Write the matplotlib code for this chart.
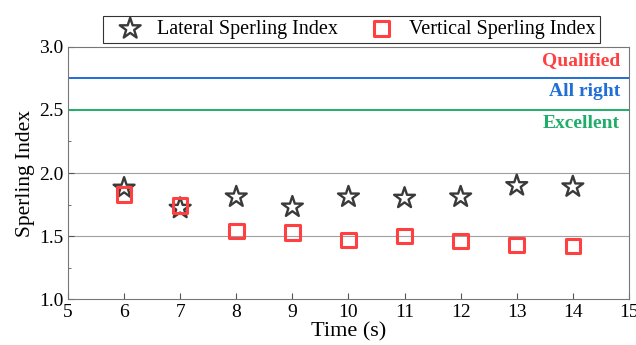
import numpy as np
from matplotlib import pyplot as plt

time_s = [6, 7, 8, 9, 10, 11, 12, 13, 14]
lateral = [1.88, 1.72, 1.81, 1.73, 1.81, 1.80, 1.81, 1.90, 1.89]
vertical = [1.83, 1.74, 1.54, 1.53, 1.47, 1.50, 1.46, 1.43, 1.42]
levels = [3.0, 2.75, 2.5]
level_names = ['Qualified', 'All right', 'Excellent']
level_colors = ['#ff4040', '#1f6fd6', '#1fae6a']

plt.rcParams['font.family'] = ['Liberation Serif', 'DejaVu Serif']
plt.rcParams['font.size'] = 14

fig = plt.figure(figsize=(6.36, 3.45), dpi=100)
ax = fig.add_axes([0.1069, 0.1333, 0.882, 0.7305])

for y in [1.5, 2.0]:
    ax.axhline(y, color='#a0a0a0', lw=0.8, zorder=1)
for y, name, c in zip(levels, level_names, level_colors):
    ax.axhline(y, color=c, lw=1.4, zorder=2)
    ax.text(14.84, y - 0.105, name, color=c, fontweight='bold',
            ha='right', va='center', fontsize=14)

ax.scatter(time_s, lateral, marker='*', s=250, facecolors='none',
           edgecolors='#3a3a3a', linewidths=1.7, label='Lateral Sperling Index', zorder=3)
ax.scatter(time_s, vertical, marker='s', s=110, facecolors='none',
           edgecolors='#ff4040', linewidths=2.2, label='Vertical Sperling Index', zorder=4)

ax.set_xlim(5, 15)
ax.set_ylim(1.0, 3.0)
ax.set_xticks(range(5, 16))
ax.set_yticks([1.0, 1.5, 2.0, 2.5, 3.0])
ax.set_yticks(np.arange(1.25, 3.0, 0.5), minor=True)
ax.yaxis.set_major_formatter(plt.FormatStrFormatter('%.1f'))
ax.tick_params(direction='in', length=4, labelsize=14, color='#555555')
ax.tick_params(which='minor', direction='in', length=2, color='#555555')
ax.tick_params(top=False, right=False)
for side in ['left', 'bottom', 'right', 'top']:
    ax.spines[side].set_color('#777777')
ax.set_xlabel('Time (s)', fontsize=16, labelpad=1)
ax.set_ylabel('Sperling Index', fontsize=15.5, labelpad=3)

leg = ax.legend(loc='lower left', bbox_to_anchor=(103 / 636, 1 - 43 / 345),
                bbox_transform=fig.transFigure, ncol=2, frameon=True,
                fancybox=False, edgecolor='black', fontsize=14.5, borderpad=0.2,
                handlelength=2.3, handletextpad=0.2, columnspacing=1.0,
                scatterpoints=1, borderaxespad=0)
leg.get_frame().set_linewidth(0.8)

fig.savefig('out.png', dpi=100)
